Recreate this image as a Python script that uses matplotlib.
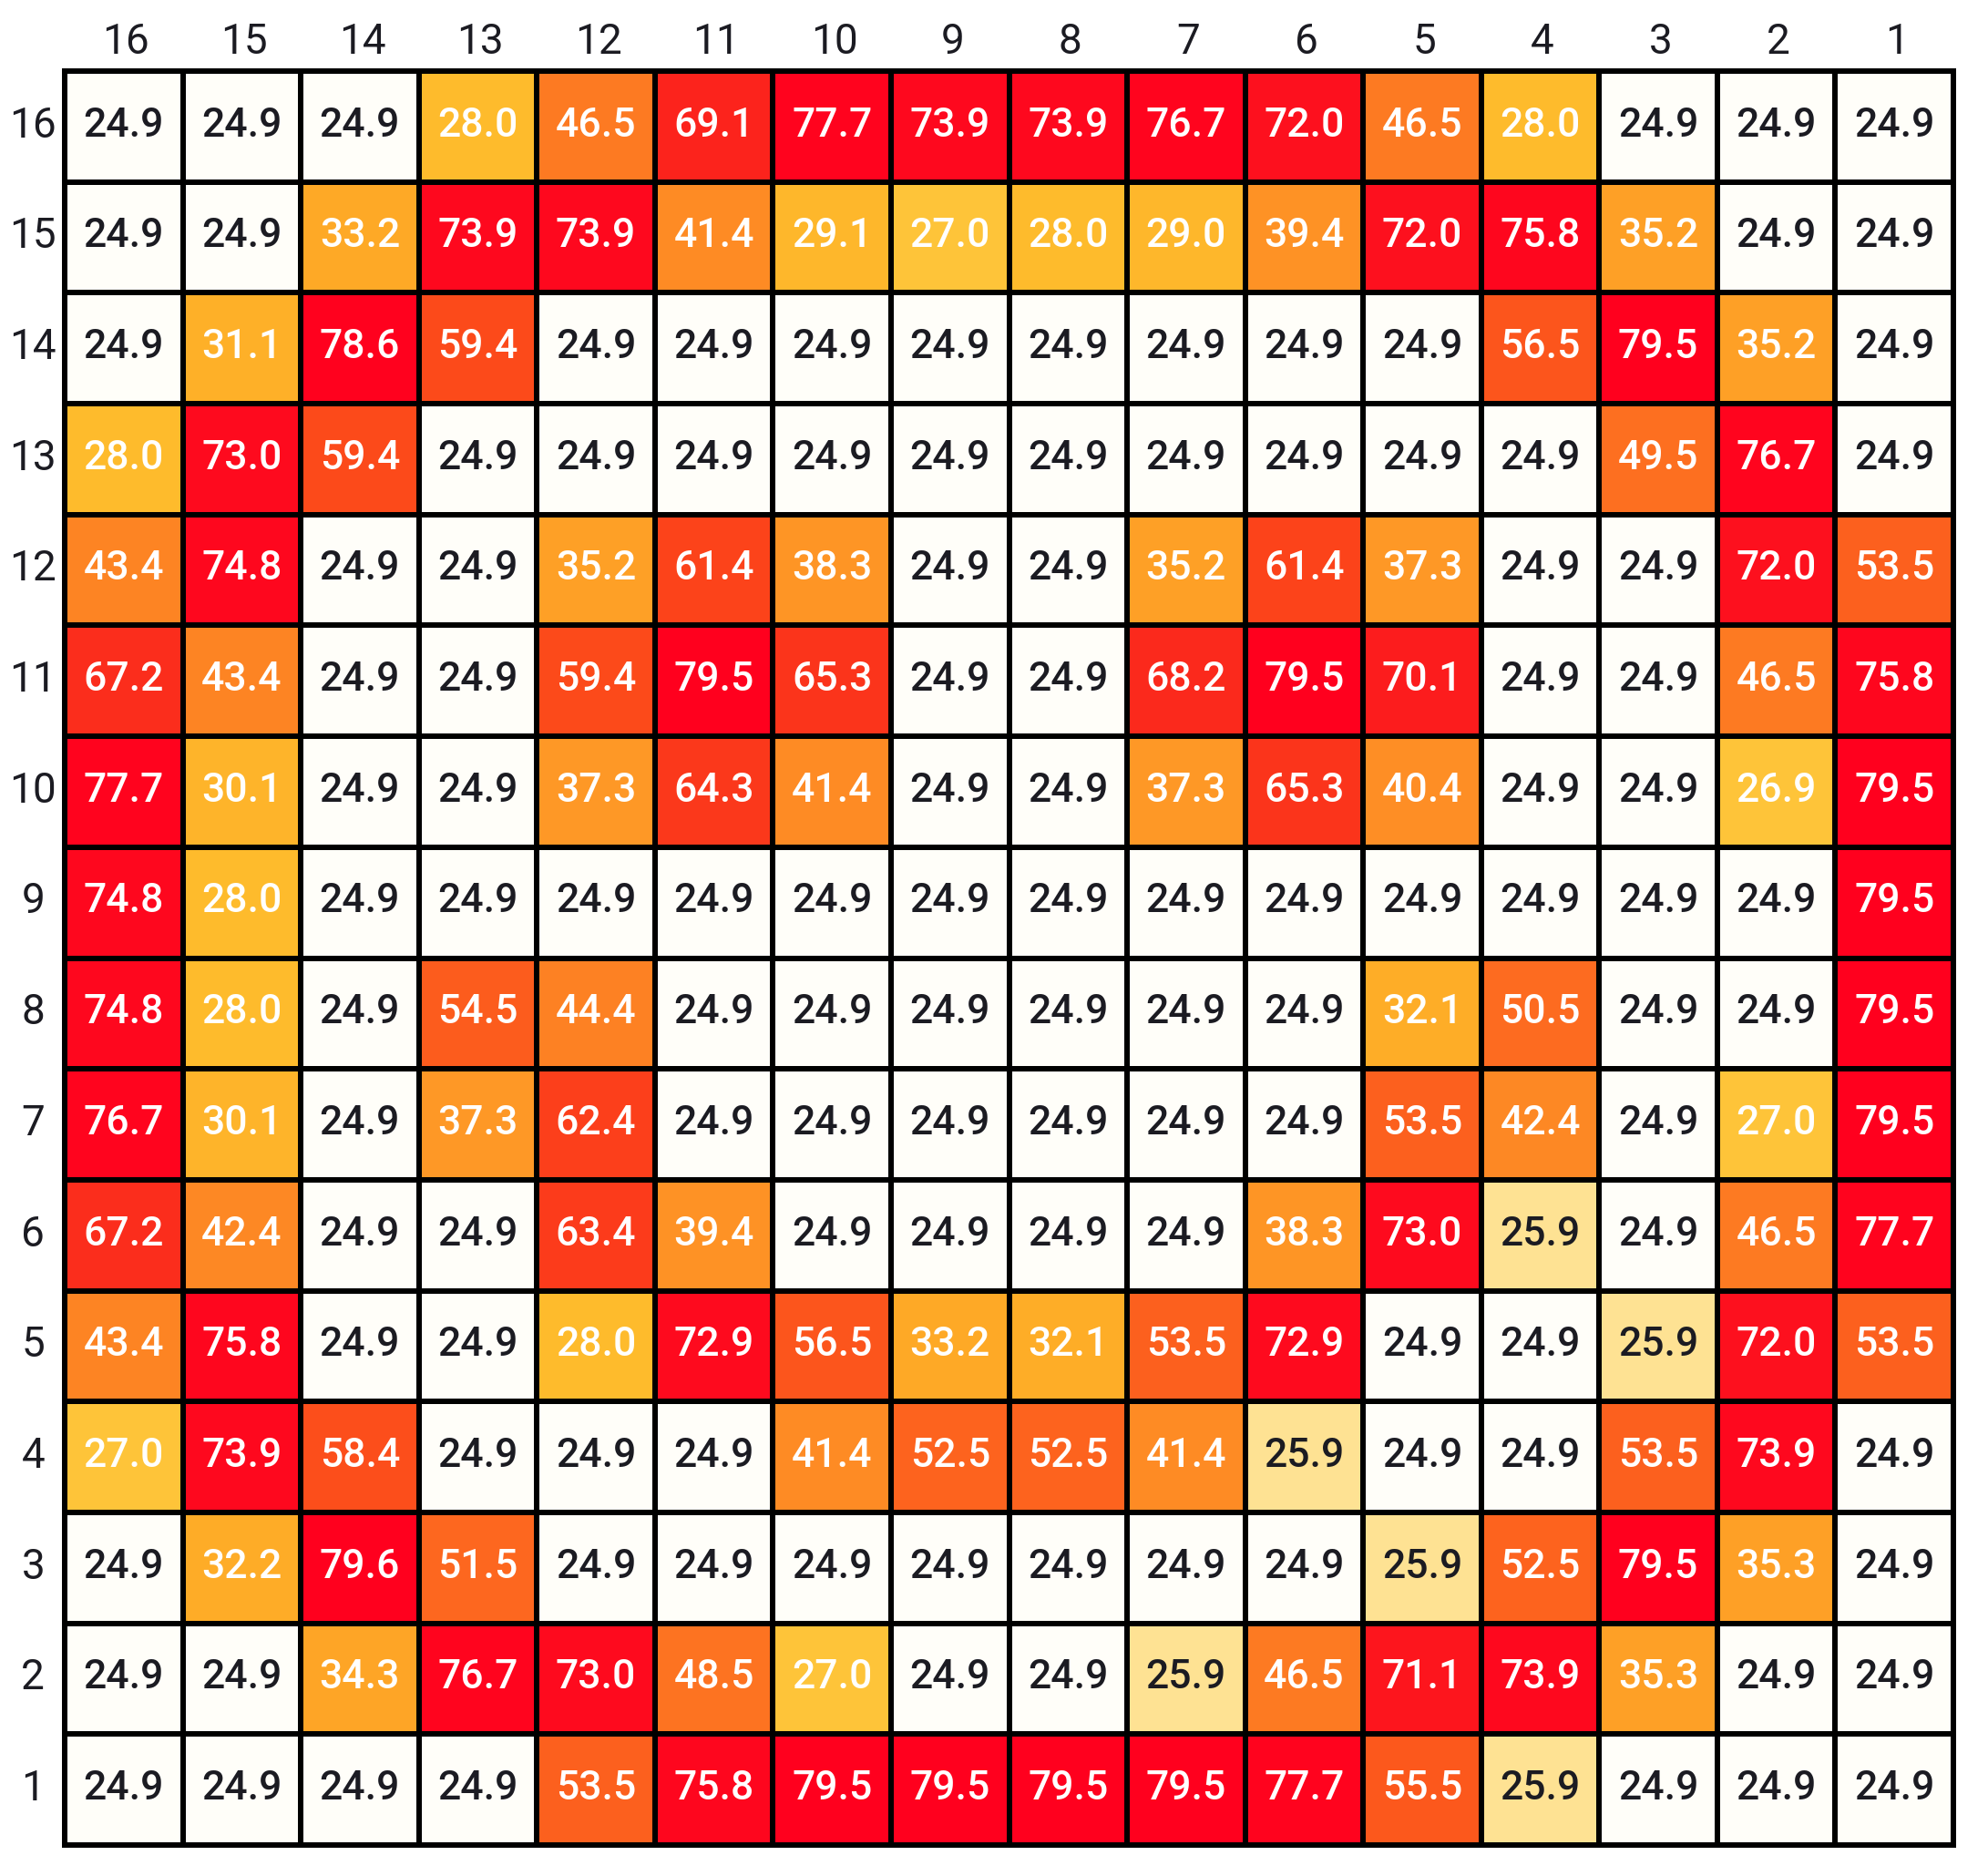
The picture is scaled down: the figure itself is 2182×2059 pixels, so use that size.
import numpy as np
import matplotlib
matplotlib.use('Agg')
import matplotlib.pyplot as plt
from matplotlib.colors import LinearSegmentedColormap, Normalize

# row and column labels, as printed on the picture
col_labels = [16, 15, 14, 13, 12, 11, 10, 9, 8, 7, 6, 5, 4, 3, 2, 1]
row_labels = [16, 15, 14, 13, 12, 11, 10, 9, 8, 7, 6, 5, 4, 3, 2, 1]

row16 = [24.9, 24.9, 24.9, 28.0, 46.5, 69.1, 77.7, 73.9, 73.9, 76.7, 72.0, 46.5, 28.0, 24.9, 24.9, 24.9]
row15 = [24.9, 24.9, 33.2, 73.9, 73.9, 41.4, 29.1, 27.0, 28.0, 29.0, 39.4, 72.0, 75.8, 35.2, 24.9, 24.9]
row14 = [24.9, 31.1, 78.6, 59.4, 24.9, 24.9, 24.9, 24.9, 24.9, 24.9, 24.9, 24.9, 56.5, 79.5, 35.2, 24.9]
row13 = [28.0, 73.0, 59.4, 24.9, 24.9, 24.9, 24.9, 24.9, 24.9, 24.9, 24.9, 24.9, 24.9, 49.5, 76.7, 24.9]
row12 = [43.4, 74.8, 24.9, 24.9, 35.2, 61.4, 38.3, 24.9, 24.9, 35.2, 61.4, 37.3, 24.9, 24.9, 72.0, 53.5]
row11 = [67.2, 43.4, 24.9, 24.9, 59.4, 79.5, 65.3, 24.9, 24.9, 68.2, 79.5, 70.1, 24.9, 24.9, 46.5, 75.8]
row10 = [77.7, 30.1, 24.9, 24.9, 37.3, 64.3, 41.4, 24.9, 24.9, 37.3, 65.3, 40.4, 24.9, 24.9, 26.9, 79.5]
row9 = [74.8, 28.0, 24.9, 24.9, 24.9, 24.9, 24.9, 24.9, 24.9, 24.9, 24.9, 24.9, 24.9, 24.9, 24.9, 79.5]
row8 = [74.8, 28.0, 24.9, 54.5, 44.4, 24.9, 24.9, 24.9, 24.9, 24.9, 24.9, 32.1, 50.5, 24.9, 24.9, 79.5]
row7 = [76.7, 30.1, 24.9, 37.3, 62.4, 24.9, 24.9, 24.9, 24.9, 24.9, 24.9, 53.5, 42.4, 24.9, 27.0, 79.5]
row6 = [67.2, 42.4, 24.9, 24.9, 63.4, 39.4, 24.9, 24.9, 24.9, 24.9, 38.3, 73.0, 25.9, 24.9, 46.5, 77.7]
row5 = [43.4, 75.8, 24.9, 24.9, 28.0, 72.9, 56.5, 33.2, 32.1, 53.5, 72.9, 24.9, 24.9, 25.9, 72.0, 53.5]
row4 = [27.0, 73.9, 58.4, 24.9, 24.9, 24.9, 41.4, 52.5, 52.5, 41.4, 25.9, 24.9, 24.9, 53.5, 73.9, 24.9]
row3 = [24.9, 32.2, 79.6, 51.5, 24.9, 24.9, 24.9, 24.9, 24.9, 24.9, 24.9, 25.9, 52.5, 79.5, 35.3, 24.9]
row2 = [24.9, 24.9, 34.3, 76.7, 73.0, 48.5, 27.0, 24.9, 24.9, 25.9, 46.5, 71.1, 73.9, 35.3, 24.9, 24.9]
row1 = [24.9, 24.9, 24.9, 24.9, 53.5, 75.8, 79.5, 79.5, 79.5, 79.5, 77.7, 55.5, 25.9, 24.9, 24.9, 24.9]

values = np.array([row16, row15, row14, row13, row12, row11, row10, row9,
                   row8, row7, row6, row5, row4, row3, row2, row1])

# colour ramp, stops taken from the cells
vmin, vmax = 24.9, 79.6
stops = [(24.9, '#fffef9'), (25.9, '#fedd82'), (27.0, '#febf2c'), (28.0, '#febb2c'),
         (33.0, '#fea926'), (37.0, '#fe9926'), (46.5, '#fd7a22'), (59.4, '#fc4a1a'),
         (68.0, '#fb2a1c'), (73.0, '#fe0a1e'), (79.6, '#ff001e')]
cmap = LinearSegmentedColormap.from_list(
    'cells', [((v - vmin) / (vmax - vmin), c) for v, c in stops])

W, H = 2182, 2059
fig = plt.figure(figsize=(W / 100, H / 100), dpi=100, facecolor='white')
ax = fig.add_axes([71 / W, 1 - 2025 / H, (2144 - 71) / W, (2025 - 78) / H])

ax.pcolormesh(values, cmap=cmap, norm=Normalize(vmin, vmax),
              edgecolors='black', linewidth=4.3)
ax.set_xlim(0, 16)
ax.set_ylim(16, 0)

font = 'Roboto'
for r in range(16):
    for c in range(16):
        v = values[r, c]
        ax.text(c + 0.5, r + 0.49, '%.1f' % v, ha='center', va='center',
                fontsize=32, family=font, fontweight='medium',
                color='#1b1b22' if v < 26.5 else 'white')

ax.xaxis.tick_top()
ax.set_xticks(np.arange(16) + 0.52)
ax.set_xticklabels(col_labels, fontsize=33, family=font, color='#1b1b22')
ax.set_yticks(np.arange(16) + 0.49)
ax.set_yticklabels(row_labels, fontsize=33, family=font, color='#1b1b22',
                   ha='center', va='center')
ax.tick_params(axis='x', length=0, pad=7)
ax.tick_params(axis='y', length=0, pad=25)

for s in ax.spines.values():
    s.set_linewidth(4.3)
    s.set_color('black')

fig.savefig('out.png', dpi=100, facecolor='white')
